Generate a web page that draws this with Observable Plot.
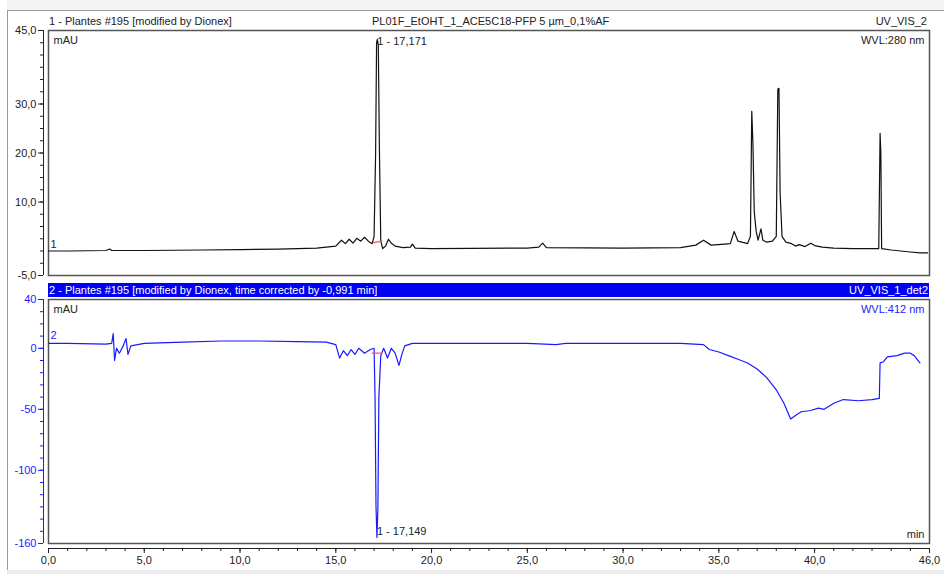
<!DOCTYPE html>
<html>
<head>
<meta charset="utf-8">
<script src="https://cdn.jsdelivr.net/npm/d3@7"></script>
<script src="https://cdn.jsdelivr.net/npm/@observablehq/plot@0.6"></script>
<style>
  html, body { margin: 0; padding: 0; background: #fff; }
  #wrap { position: relative; width: 944px; height: 574px; overflow: hidden; background: #fff;
          font-family: "Liberation Sans", Arial, sans-serif; font-size: 11px; color: #222; }
  .abs { position: absolute; white-space: nowrap; line-height: 1; }
  svg { position: absolute; left: 0; overflow: visible; }
</style>
</head>
<body>
<div id="wrap">
  <div class="abs" style="left:7px;top:10px;width:1px;height:564px;background:#9a9a9a"></div>
  <div class="abs" style="left:7px;top:10px;width:937px;height:1px;background:#9a9a9a"></div>
  <div class="abs" style="left:7px;top:0px;width:937px;height:10px;background:#f4f4f4"></div>
  <div class="abs" style="left:7px;top:570px;width:937px;height:4px;background:#ececec"></div>
  <div class="abs" style="left:49px;top:16px;">1 - Plantes #195 [modified by Dionex]</div>
  <div class="abs" style="left:372px;top:16px;">PL01F_EtOHT_1_ACE5C18-PFP 5 µm_0,1%AF</div>
  <div class="abs" style="right:17px;top:16px;">UV_VIS_2</div>
  <div class="abs" style="left:48px;top:283px;width:881px;height:14px;background:#0000f2;"></div>
  <div class="abs" style="left:49px;top:285px;color:#fff;">2 - Plantes #195 [modified by Dionex, time corrected by -0,991 min]</div>
  <div class="abs" style="right:16px;top:285px;color:#fff;">UV_VIS_1_det2</div>
</div>
<script>
// ---- Data: trace 1 (UV_VIS_2, 280 nm), time in min, signal in mAU
const time1 = [0, 1, 3.0, 3.2, 3.3, 5, 8, 10, 12, 14, 15.0, 15.3, 15.5, 15.7, 15.9, 16.1, 16.3, 16.5, 16.7, 16.9,
  17.0, 17.08, 17.13, 17.17, 17.22, 17.28, 17.35, 17.45, 17.6, 17.75, 17.9, 18.1, 18.5, 18.9, 19.0, 19.15,
  20, 25, 25.6, 25.8, 26.0, 30, 33, 33.8, 34.2, 34.6, 35.3, 35.6, 35.8, 36.0, 36.5, 36.65, 36.72, 36.78,
  36.85, 36.95, 37.05, 37.2, 37.3, 37.5, 37.8, 38.0, 38.08, 38.14, 38.2, 38.3, 38.5, 38.8, 39.0, 39.2,
  39.5, 39.8, 40.0, 40.4, 41, 42, 43.35, 43.42, 43.46, 43.5, 44, 45, 45.5, 45.9];
const signal1 = [0.0, 0.0, 0.1, 0.4, 0.1, 0.1, 0.2, 0.3, 0.4, 0.6, 1.0, 2.2, 1.5, 2.4, 1.6, 2.6, 2.0, 2.8, 2.0, 1.5,
  3.0, 20, 42.5, 43.2, 42, 20, 2, 0.5, 1.0, 2.4, 1.6, 1.0, 0.7, 0.8, 1.4, 0.6,
  0.5, 0.6, 0.8, 1.6, 0.7, 0.6, 0.7, 1.2, 2.2, 1.2, 1.4, 1.5, 4.0, 2.0, 1.5, 3, 28.5, 22,
  8, 4, 2.2, 4.5, 2.2, 1.8, 2.0, 3, 33.0, 33.2, 12, 3, 1.8, 1.5, 1.0, 1.3,
  0.9, 1.6, 1.1, 0.8, 0.6, 0.5, 0.5, 24, 20, 0.5, 0.2, -0.2, -0.4, -0.4];

// ---- Data: trace 2 (UV_VIS_1_det2, 412 nm)
const time2 = [0, 1, 3.0, 3.3, 3.38, 3.45, 3.55, 3.7, 3.9, 4.05, 4.15, 4.3, 5, 7, 9, 11, 13, 14.5, 15.0, 15.2,
  15.4, 15.6, 15.8, 16.0, 16.2, 16.5, 16.8, 17.0, 17.05, 17.1, 17.15, 17.2, 17.25, 17.35, 17.5, 17.7, 17.9,
  18.1, 18.3, 18.45, 18.6, 19, 20, 22, 25, 26.5, 27, 30, 33, 34.2, 34.5, 35, 35.5, 36, 36.5, 37, 37.5, 38,
  38.4, 38.75, 39.0, 39.3, 39.8, 40.2, 40.5, 41, 41.5, 42.3, 43.0, 43.38, 43.42, 43.6, 43.8, 44.3, 44.7,
  45.0, 45.2, 45.5];
const signal2 = [4, 4, 3.5, 4, 12, -10, 0, -4, 2, 8, -5, 2, 4, 5, 6, 6, 5.5, 5, 3, -8,
  -2, -6, -1, -5, 0, -4, -1, 0, -40, -130, -155, -130, -40, -6, 0, -8, 0,
  -4, -14, -5, 2, 4, 4, 4, 4, 3, 4, 4, 4, 3, -1, -3, -6, -9, -12, -17, -24, -34,
  -45, -58, -55, -52, -51, -49, -50, -45, -42, -43, -42, -41, -12, -11, -7, -6, -4,
  -4, -6, -12];

// integration baselines of peak 1
const base1Time = [16.96, 17.41], base1Signal = [1.7, 2.0];
const base2Time = [16.9, 17.42], base2Signal = [-3.9, -3.9];

// peak annotations
const peak1 = {time: 17.171, signal: 43.2, label: "1 - 17,171"};
const peak2 = {time: 17.149, signal: -150, label: "1 - 17,149"};

// axes ticks
const yTicks1 = [-5, 10, 20, 30, 45];
const yMinor1 = d3.range(-5, 45.01, 2.5);
const yTicks2 = [-160, -100, -50, 0, 40];
const yMinor2 = d3.range(-160, 40.01, 10);
const xTicks = [0, 5, 10, 15, 20, 25, 30, 35, 40, 46];
const xMinor = d3.range(0, 46.01, 1);

const comma1 = d => d.toFixed(1).replace(".", ",");
const tr1 = time1.map((t, i) => ({t, v: signal1[i]}));
const tr2 = time2.map((t, i) => ({t, v: signal2[i]}));
const bl1 = base1Time.map((t, i) => ({t, v: base1Signal[i]}));
const bl2 = base2Time.map((t, i) => ({t, v: base2Signal[i]}));

const FONT = "Liberation Sans, Arial, sans-serif";
const BLUE = "#1a1aff";

const topChart = Plot.plot({
  width: 944, height: 280,
  marginTop: 30, marginBottom: 5, marginLeft: 48, marginRight: 15,
  x: {domain: [0, 46], axis: null},
  y: {domain: [-5, 45], axis: null},
  style: {fontFamily: FONT, fontSize: "11px", background: "transparent", color: "#222"},
  marks: [
    Plot.frame({stroke: "#555", strokeWidth: 1.5}),
    Plot.ruleX([0], {dx: -5, stroke: "#222"}),
    Plot.axisY(yMinor1, {tickSize: 3, tickFormat: () => "", dx: -5, stroke: "#222"}),
    Plot.axisY(yTicks1, {tickSize: 5, tickFormat: comma1, dx: -5, tickPadding: 2, stroke: "#222", fill: "#222"}),
    Plot.line(tr1, {x: "t", y: "v", stroke: "#111", strokeWidth: 1.2}),
    Plot.line(bl1, {x: "t", y: "v", stroke: "#ff5555", strokeWidth: 1.2}),
    Plot.text([peak1], {x: "time", y: "signal", text: "label", textAnchor: "start", dx: 0, dy: 2, fill: "#222"}),
    Plot.text([tr1[0]], {x: "t", y: "v", text: () => "1", textAnchor: "start", dx: 2, dy: -7, fill: "#222"}),
    Plot.text(["mAU"], {frameAnchor: "top-left", text: d => d, dx: 5, dy: 6, fill: "#222"}),
    Plot.text(["WVL:280 nm"], {frameAnchor: "top-right", text: d => d, dx: -5, dy: 6, fill: "#222"})
  ]
});
topChart.style.top = "0px";

const bottomChart = Plot.plot({
  width: 944, height: 294,
  marginTop: 19, marginBottom: 31, marginLeft: 48, marginRight: 15,
  x: {domain: [0, 46], axis: null},
  y: {domain: [-160, 40], axis: null},
  style: {fontFamily: FONT, fontSize: "11px", background: "transparent", color: "#222"},
  marks: [
    Plot.frame({stroke: "#555", strokeWidth: 1.5}),
    Plot.ruleX([0], {dx: -5, stroke: BLUE}),
    Plot.axisY(yMinor2, {tickSize: 3, tickFormat: () => "", dx: -5, stroke: BLUE}),
    Plot.axisY(yTicks2, {tickSize: 5, tickFormat: d => String(d), dx: -5, tickPadding: 2, stroke: BLUE, fill: BLUE}),
    Plot.ruleY([-160], {dy: 5, stroke: "#222"}),
    Plot.axisX(xMinor, {tickSize: 3, tickFormat: () => "", dy: 5, stroke: "#222"}),
    Plot.axisX(xTicks, {tickSize: 5, tickFormat: comma1, dy: 5, tickPadding: 3, stroke: "#222", fill: "#222"}),
    Plot.line(tr2, {x: "t", y: "v", stroke: BLUE, strokeWidth: 1.2}),
    Plot.line(bl2, {x: "t", y: "v", stroke: "#ff5555", strokeWidth: 1.2}),
    Plot.text([peak2], {x: "time", y: "signal", text: "label", textAnchor: "start", dx: 0, dy: 0, fill: "#222"}),
    Plot.text([tr2[0]], {x: "t", y: "v", text: () => "2", textAnchor: "start", dx: 2, dy: -8, fill: BLUE}),
    Plot.text(["mAU"], {frameAnchor: "top-left", text: d => d, dx: 5, dy: 6, fill: "#222"}),
    Plot.text(["WVL:412 nm"], {frameAnchor: "top-right", text: d => d, dx: -5, dy: 6, fill: BLUE}),
    Plot.text(["min"], {frameAnchor: "bottom-right", text: d => d, dx: -5, dy: -6, fill: "#222"})
  ]
});
bottomChart.style.top = "280px";

const wrap = document.getElementById("wrap");
wrap.appendChild(topChart);
wrap.appendChild(bottomChart);
</script>
</body>
</html>
